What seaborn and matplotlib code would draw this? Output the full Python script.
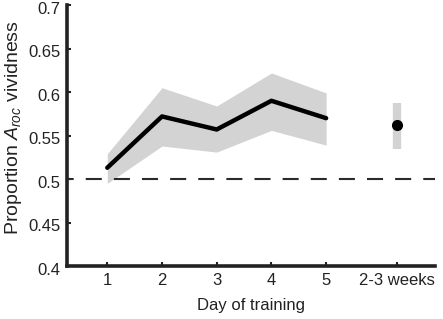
import matplotlib
matplotlib.use("Agg")
import matplotlib.pyplot as plt
import matplotlib.transforms as mtransforms
import seaborn as sns
import pandas as pd

days = [1, 2, 3, 4, 5]
mean_vals = [0.513, 0.572, 0.557, 0.590, 0.570]
upper_vals = [0.529, 0.605, 0.584, 0.622, 0.599]
lower_vals = [0.495, 0.538, 0.531, 0.556, 0.539]
weeks_pos = 6.30
weeks_mean = 0.562
weeks_upper = 0.588
weeks_lower = 0.535
tick_positions = [1, 2, 3, 4, 5, 6.30]
tick_labels = ["1", "2", "3", "4", "5", "2-3 weeks"]
yticks = [0.4, 0.45, 0.5, 0.55, 0.6, 0.65, 0.7]
ytick_labels = ["0.4", "0.45", "0.5", "0.55", "0.6", "0.65", "0.7"]

sns.set_style("ticks")
plt.rcParams['font.family'] = ['Liberation Sans', 'DejaVu Sans']
plt.rcParams['mathtext.fontset'] = 'custom'
plt.rcParams['mathtext.it'] = 'Liberation Sans:italic'
plt.rcParams['mathtext.rm'] = 'Liberation Sans'

fig = plt.figure(figsize=(4.43, 3.19), dpi=100)
ax = fig.add_axes([0.152, 0.166, 0.830, 0.818])

df = pd.DataFrame({"day": days, "mean": mean_vals})
ax.fill_between(days, lower_vals, upper_vals, color="#d3d3d3", linewidth=0, zorder=1)
sns.lineplot(data=df, x="day", y="mean", ax=ax, color="black", linewidth=3.2, zorder=3)
ax.vlines(weeks_pos, weeks_lower, weeks_upper, color="#d3d3d3", linewidth=6, zorder=1)
ax.plot([weeks_pos], [weeks_mean], "o", color="black", markersize=7, zorder=4)
ax.axhline(0.5, color="#2a2a2a", linestyle=(4.5, (7.7, 5.8)), linewidth=1.5, zorder=2)

ax.set_xlim(0.27, 6.99)
ax.set_ylim(0.4, 0.7)
ax.set_xticks(tick_positions)
ax.set_xticklabels(tick_labels)
ax.set_yticks(yticks)
ax.set_yticklabels(ytick_labels)
ax.tick_params(direction="in", length=3, width=1.5, labelsize=12, colors="#222222", labelcolor="#222222", pad=5)
shift = mtransforms.ScaledTranslation(0, -2.5 / 100, fig.dpi_scale_trans)
for lab in ax.get_yticklabels():
    lab.set_transform(lab.get_transform() + shift)
for s in ["top", "right"]:
    ax.spines[s].set_visible(False)
for s in ["left", "bottom"]:
    ax.spines[s].set_linewidth(2.6)
    ax.spines[s].set_color("#222222")

ax.set_xlabel("Day of training", fontsize=12, color="#222222", labelpad=7)
ax.set_ylabel("Proportion $\\mathit{A}_{\\mathit{roc}}$ vividness", fontsize=14, color="#222222", labelpad=3, y=0.53)

fig.savefig("out.png", dpi=100)
